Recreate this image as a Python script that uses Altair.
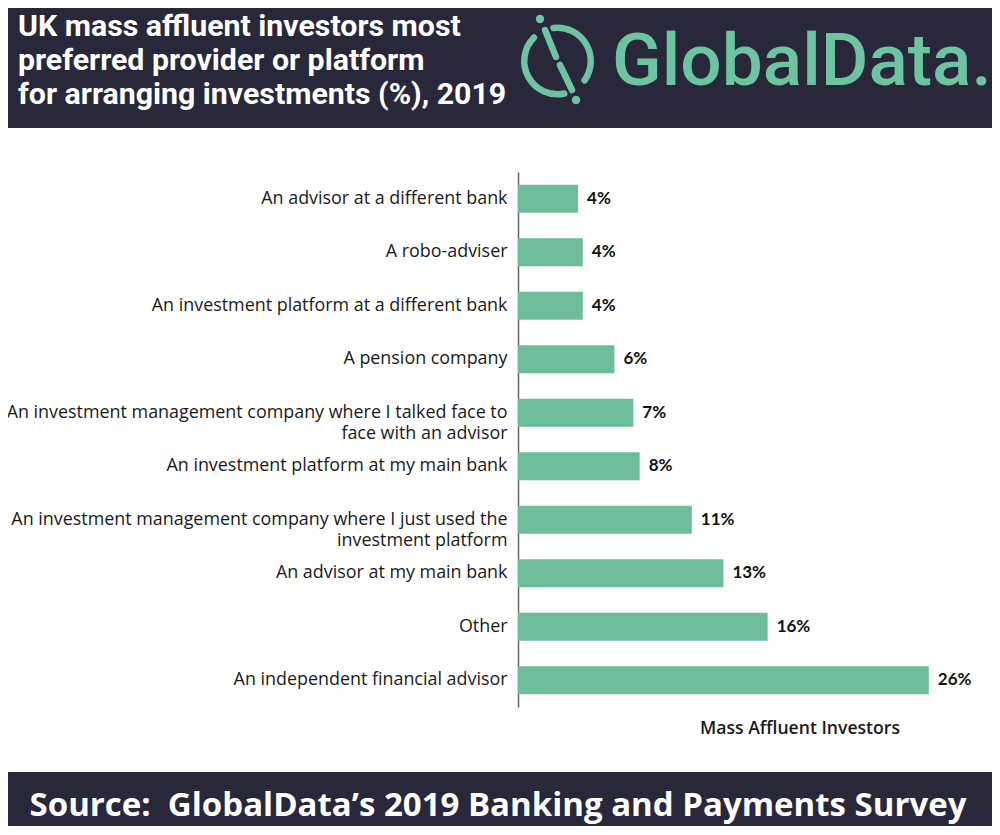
import altair as alt
import pandas as pd

categories = [
    "An advisor at a different bank",
    "A robo-adviser",
    "An investment platform at a different bank",
    "A pension company",
    "An investment management company where I talked face to\nface with an advisor",
    "An investment platform at my main bank",
    "An investment management company where I just used the\ninvestment platform",
    "An advisor at my main bank",
    "Other",
    "An independent financial advisor",
]
values = [3.8, 4.1, 4.1, 6.1, 7.3, 7.7, 11.0, 13.0, 15.8, 26.0]
value_labels = ["4%", "4%", "4%", "6%", "7%", "8%", "11%", "13%", "16%", "26%"]

title_lines = [
    "UK mass affluent investors most",
    "preferred provider or platform",
    "for arranging investments (%), 2019",
]
source_text = "Source:\u00a0 GlobalData\u2019s 2019 Banking and Payments Survey"
series_name = "Mass Affluent Investors"
logo_text = "GlobalData."

DARK = "#29283a"
TEAL = "#6dbd9b"
LOGO = "#6cc4a0"

df = pd.DataFrame({"category": categories, "value": values, "label": value_labels})

one = alt.Data(values=[{"k": 1}])

y_enc = alt.Y(
    "category:N",
    sort=categories,
    title=None,
    scale=alt.Scale(paddingInner=0.48, paddingOuter=0.24),
    axis=alt.Axis(
        ticks=False,
        grid=False,
        domainColor="#666666",
        domainWidth=1.5,
        labelFont="Open Sans",
        labelFontSize=17.9,
        labelColor="#1a1a1a",
        labelPadding=11,
        labelLimit=0,
        labelLineHeight=21,
        labelExpr="split(datum.label, '\\n')",
    ),
)
x_enc = alt.X("value:Q", scale=alt.Scale(domain=[0, 30]), axis=None)

bars = alt.Chart(df).mark_bar(color=TEAL).encode(x=x_enc, y=y_enc)
vals = alt.Chart(df).mark_text(
    align="left", baseline="middle", dx=9, font="Lato", fontSize=17,
    fontWeight="bold", color="#111111"
).encode(x=x_enc, y=alt.Y("category:N", sort=categories), text="label:N")

header = alt.Chart(one).mark_rect(color=DARK).encode(
    x=alt.value(-520), x2=alt.value(490), y=alt.value(-180), y2=alt.value(-44)
)
footer = alt.Chart(one).mark_rect(color=DARK).encode(
    x=alt.value(-520), x2=alt.value(490), y=alt.value(600), y2=alt.value(690)
)
title = alt.Chart(one).mark_text(
    align="left", baseline="alphabetic", font="Roboto",
    fontSize=30.3, fontWeight="bold", color="white", lineHeight=34
).encode(x=alt.value(-500), y=alt.value(36 - 172), text=alt.value(title_lines))

logo_word = alt.Chart(one).mark_text(
    align="left", baseline="alphabetic", font="Roboto", fontSize=73,
    fontWeight=500, color=LOGO
).encode(x=alt.value(612 - 518), y=alt.value(85 - 172), text=alt.value(logo_text))

cx, cy = 557.5 - 518, 61 - 172
arc_a = alt.Chart(one).mark_arc(
    radius=36.5, radius2=30, theta=6.07, theta2=8.57, color=LOGO, cornerRadius=3
).encode(x=alt.value(cx), y=alt.value(cy))
arc_b = alt.Chart(one).mark_arc(
    radius=36.5, radius2=30, theta=2.84, theta2=5.59, color=LOGO, cornerRadius=3
).encode(x=alt.value(cx), y=alt.value(cy))
slash1 = alt.Chart(one).mark_rule(color=LOGO, strokeWidth=6.5, strokeCap="round").encode(
    x=alt.value(545 - 518), y=alt.value(30 - 172), x2=alt.value(556 - 518), y2=alt.value(57 - 172)
)
slash2 = alt.Chart(one).mark_rule(color=LOGO, strokeWidth=6.5, strokeCap="round").encode(
    x=alt.value(560 - 518), y=alt.value(65 - 172), x2=alt.value(572 - 518), y2=alt.value(90 - 172)
)
dot1 = alt.Chart(one).mark_circle(color=LOGO, size=70, opacity=1).encode(
    x=alt.value(540 - 518), y=alt.value(19 - 172)
)
dot2 = alt.Chart(one).mark_circle(color=LOGO, size=70, opacity=1).encode(
    x=alt.value(576 - 518), y=alt.value(100 - 172)
)

series_lbl = alt.Chart(one).mark_text(
    align="center", baseline="alphabetic", font="Open Sans", fontSize=17.6,
    fontWeight=600, color="#1a1a1a"
).encode(x=alt.value(800 - 518), y=alt.value(734 - 172), text=alt.value(series_name))

source = alt.Chart(one).mark_text(
    align="center", baseline="alphabetic", font="Open Sans", fontSize=33,
    fontWeight="bold", color="white"
).encode(x=alt.value(498 - 518), y=alt.value(816 - 172), text=alt.value(source_text))

chart = alt.layer(
    header, footer, title, logo_word, arc_a, arc_b, slash1, slash2, dot1, dot2,
    bars, vals, series_lbl, source
).properties(
    width=474, height=535,
    padding={"left": 510, "top": 164, "right": 0, "bottom": 119},
    autosize=alt.AutoSizeParams(type="none"),
    background="white",
).configure_view(stroke=None)

chart.save("out.html", embed_options={"renderer": "svg", "actions": False})
